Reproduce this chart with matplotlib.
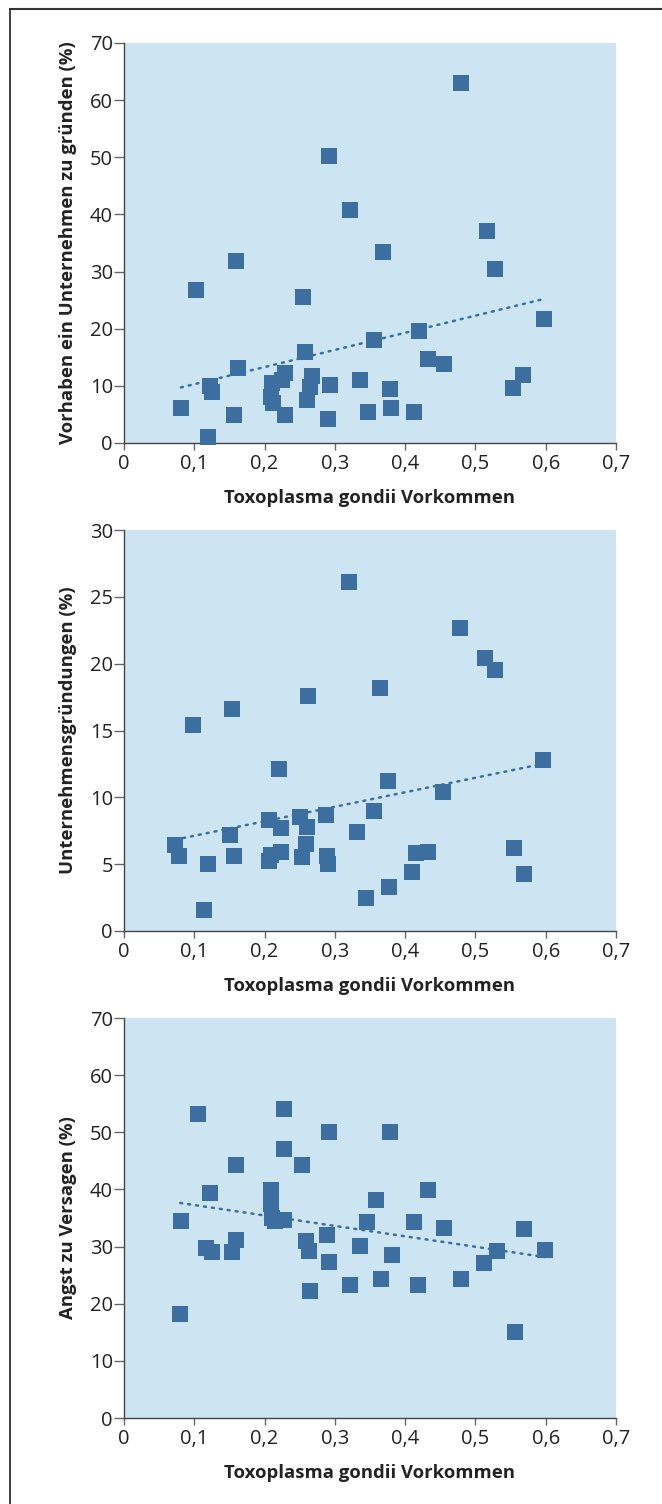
import numpy as np
import matplotlib.pyplot as plt
from matplotlib.lines import Line2D

# Daten
x1 = [0.081, 0.103, 0.119, 0.122, 0.125, 0.156, 0.159, 0.162, 0.209, 0.210,
      0.212, 0.225, 0.229, 0.229, 0.254, 0.257, 0.261, 0.265, 0.267, 0.291,
      0.293, 0.290, 0.321, 0.336, 0.347, 0.356, 0.368, 0.378, 0.380, 0.413,
      0.420, 0.433, 0.455, 0.479, 0.516, 0.528, 0.553, 0.568, 0.598]
y1 = [6.2, 26.7, 1.0, 9.9, 9.0, 4.9, 31.9, 13.2, 8.0, 10.5,
      7.0, 11.0, 12.2, 4.9, 25.6, 16.0, 7.5, 9.8, 11.7, 50.2,
      10.2, 4.2, 40.8, 11.0, 5.5, 18.0, 33.4, 9.5, 6.2, 5.5,
      19.6, 14.7, 13.8, 63.0, 37.1, 30.5, 9.6, 11.9, 21.7]

x2 = [0.073, 0.078, 0.098, 0.114, 0.119, 0.151, 0.154, 0.156, 0.206, 0.206,
      0.209, 0.221, 0.223, 0.223, 0.251, 0.253, 0.259, 0.261, 0.262, 0.288,
      0.289, 0.290, 0.320, 0.331, 0.344, 0.356, 0.364, 0.376, 0.377, 0.410,
      0.415, 0.432, 0.454, 0.478, 0.514, 0.528, 0.555, 0.569, 0.596]
y2 = [6.4, 5.6, 15.4, 1.6, 5.0, 7.2, 16.6, 5.6, 8.3, 5.2,
      5.7, 12.1, 7.7, 5.9, 8.5, 5.5, 6.5, 7.8, 17.6, 8.7,
      5.6, 5.0, 26.1, 7.4, 2.5, 9.0, 18.2, 11.2, 3.3, 4.4,
      5.8, 5.9, 10.4, 22.7, 20.4, 19.5, 6.2, 4.3, 12.8]

x3 = [0.080, 0.081, 0.105, 0.117, 0.122, 0.125, 0.154, 0.159, 0.159, 0.209,
      0.209, 0.210, 0.215, 0.228, 0.228, 0.228, 0.253, 0.259, 0.263, 0.265,
      0.289, 0.292, 0.292, 0.321, 0.336, 0.346, 0.358, 0.366, 0.378, 0.381,
      0.413, 0.418, 0.432, 0.455, 0.479, 0.512, 0.531, 0.556, 0.569, 0.599]
y3 = [18.2, 34.4, 53.2, 29.8, 39.3, 29.1, 29.1, 31.2, 44.2, 39.9,
      37.5, 35.0, 34.5, 34.6, 54.1, 47.0, 44.3, 31.0, 29.2, 22.3,
      32.0, 50.0, 27.3, 23.3, 30.1, 34.3, 38.2, 24.3, 50.0, 28.5,
      34.3, 23.3, 39.9, 33.3, 24.3, 27.2, 29.2, 15.0, 33.1, 29.4]

x_label = "Toxoplasma gondii Vorkommen"
y_labels = ["Vorhaben ein Unternehmen zu gründen (%)",
            "Unternehmensgründungen (%)",
            "Angst zu Versagen (%)"]
y_limits = [70, 30, 70]
y_steps = [10, 5, 10]

BG = "#cde5f2"
BLUE = "#3d6ea0"
TICK_FONT = ["Liberation Sans Narrow", "Open Sans", "DejaVu Sans"]
LABEL_FONT = ["Open Sans", "DejaVu Sans"]

fig = plt.figure(figsize=(6.62, 15.04), dpi=100)

# Rahmen links/oben
fig.add_artist(Line2D([10/662, 10/662], [0, 1 - 9/1504], color="#333333", lw=1.3,
                      transform=fig.transFigure))
fig.add_artist(Line2D([10/662, 1], [1 - 9/1504, 1 - 9/1504], color="#333333", lw=1.5,
                      transform=fig.transFigure))

bottoms = [1 - 443/1504, 1 - 931/1504, 1 - 1418/1504]
heights = [400/1504, 401/1504, 400/1504]
data = [(x1, y1), (x2, y2), (x3, y3)]

for i, (xs, ys) in enumerate(data):
    ax = fig.add_axes([124/662, bottoms[i], 492/662, heights[i]])
    ax.set_facecolor(BG)
    xs = np.array(xs)
    ys = np.array(ys)

    # Trendlinie
    m, b = np.polyfit(xs, ys, 1)
    xt = np.array([xs.min(), xs.max()])
    ax.plot(xt, m * xt + b, color=BLUE, lw=1.8, linestyle=(0, (0.8, 2.4)),
            dash_capstyle="round", zorder=2)

    ax.scatter(xs, ys, marker="s", s=11.5**2, color=BLUE, linewidths=0, zorder=3,
               clip_on=False)

    ax.set_xlim(0, 0.7)
    ax.set_ylim(0, y_limits[i])
    ax.set_xticks(np.arange(0, 0.71, 0.1))
    ax.set_xticklabels(["0"] + [f"0,{k}" for k in range(1, 8)])
    ax.set_yticks(np.arange(0, y_limits[i] + 1, y_steps[i]))

    for s in ["top", "right"]:
        ax.spines[s].set_visible(False)
    for s in ["left", "bottom"]:
        ax.spines[s].set_color("#444444")
        ax.spines[s].set_linewidth(1.0)

    ax.tick_params(axis="y", direction="out", length=7, width=1, color="#666666",
                   pad=1, labelsize=14.5, labelcolor="#222222")
    ax.tick_params(axis="x", direction="out", length=5, width=1, color="#666666",
                   pad=3, labelsize=14.5, labelcolor="#222222")
    for lab in ax.get_xticklabels() + ax.get_yticklabels():
        lab.set_family(TICK_FONT)

    ax.set_xlabel(x_label, family=LABEL_FONT, fontweight="bold", fontsize=13.3,
                  color="#222222", labelpad=11)
    ax.set_ylabel(y_labels[i], family=LABEL_FONT, fontweight="bold", fontsize=13.3,
                  color="#222222", labelpad=9)

fig.savefig("out.png", dpi=100)
